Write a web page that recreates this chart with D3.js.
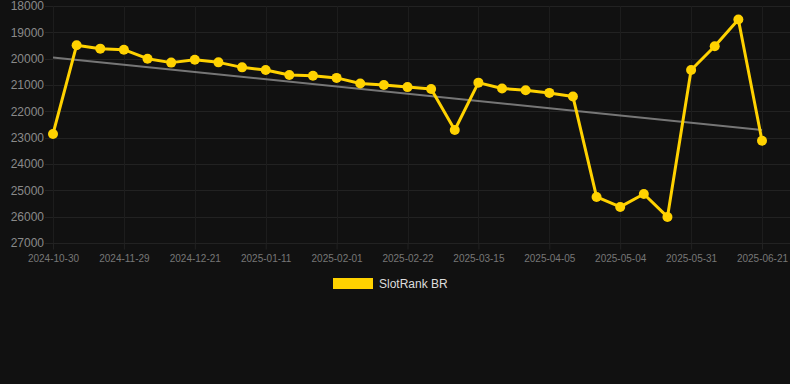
<!DOCTYPE html>
<html>
  <head>
    <meta charset="UTF-8" />
    <script src="https://cdn.jsdelivr.net/npm/d3@7"></script>
    <style>
      html, body { margin: 0; padding: 0; background: #111111; }
      svg { display: block; font-family: Arial, "Liberation Sans", sans-serif; }
    </style>
  </head>
  <body>
    <svg></svg>
    <script>
      // data
      const dates = [
        "2024-10-30", "2024-11-09", "2024-11-19", "2024-11-29", "2024-12-06",
        "2024-12-14", "2024-12-21", "2024-12-28", "2025-01-04", "2025-01-11",
        "2025-01-18", "2025-01-25", "2025-02-01", "2025-02-08", "2025-02-15",
        "2025-02-22", "2025-03-01", "2025-03-08", "2025-03-15", "2025-03-22",
        "2025-03-29", "2025-04-05", "2025-04-14", "2025-04-24", "2025-05-04",
        "2025-05-13", "2025-05-22", "2025-05-31", "2025-06-07", "2025-06-14",
        "2025-06-21"
      ]
      const ranks = [
        22860, 19490, 19620, 19660, 20000, 20150, 20040, 20140, 20330, 20430,
        20620, 20650, 20730, 20940, 21000, 21080, 21150, 22710, 20910, 21130,
        21200, 21300, 21440, 25250, 25630, 25140, 26010, 20430, 19530, 18510,
        23120
      ]
      const yTicks = [18000, 19000, 20000, 21000, 22000, 23000, 24000, 25000, 26000, 27000]
      const seriesName = "SlotRank BR"

      const width = 790
      const height = 384
      const gold = "#ffd200"

      const svg = d3.select("svg").attr("width", width).attr("height", height)

      const x = d3.scalePoint().domain(dates).range([53, 762])
      const y = d3.scaleLinear().domain([18000, 27000]).range([6, 243])

      const xTicks = dates.filter((d, i) => i % 3 === 0)

      // grid
      svg.append("g")
        .attr("stroke", "#222")
        .attr("stroke-width", 1)
        .selectAll("line")
        .data(yTicks)
        .join("line")
        .attr("x1", 45)
        .attr("x2", 790)
        .attr("y1", (d) => Math.round(y(d)) + 0.5)
        .attr("y2", (d) => Math.round(y(d)) + 0.5)

      svg.append("g")
        .attr("stroke", "#1d1d1d")
        .selectAll("line")
        .data(xTicks)
        .join("line")
        .attr("x1", (d) => Math.round(x(d)) + 0.5)
        .attr("x2", (d) => Math.round(x(d)) + 0.5)
        .attr("y1", y(18000))
        .attr("y2", y(27000))

      // x axis
      const xAxis = svg.append("g")
        .attr("transform", `translate(0,${Math.round(y(27000)) + 0.5})`)
        .call(d3.axisBottom(x).tickValues(xTicks).tickSize(6).tickPadding(5))
      xAxis.select(".domain").remove()
      xAxis.selectAll(".tick line").attr("stroke", "#222")
      xAxis.selectAll(".tick text")
        .attr("fill", "#777")
        .attr("font-size", 10)
        .attr("font-family", "Arial, 'Liberation Sans', sans-serif")

      // y axis
      const yAxis = svg.append("g")
        .attr("transform", "translate(44,0)")
        .call(d3.axisLeft(y).tickValues(yTicks).tickSize(0).tickPadding(0).tickFormat(d3.format("d")))
      yAxis.select(".domain").remove()
      yAxis.selectAll(".tick text")
        .attr("fill", "#8a8a8a")
        .attr("font-size", 12)
        .attr("font-family", "Arial, 'Liberation Sans', sans-serif")

      // trend line (least squares)
      const idx = ranks.map((d, i) => i)
      const mx = d3.mean(idx)
      const my = d3.mean(ranks)
      const slope = d3.sum(idx, (i) => (i - mx) * (ranks[i] - my)) / d3.sum(idx, (i) => (i - mx) ** 2)
      const trend = (i) => my + slope * (i - mx)
      svg.append("line")
        .attr("x1", x(dates[0]))
        .attr("x2", x(dates[dates.length - 1]))
        .attr("y1", y(trend(0)))
        .attr("y2", y(trend(dates.length - 1)))
        .attr("stroke", "#888")
        .attr("stroke-opacity", 0.85)
        .attr("stroke-width", 2)

      // series
      const line = d3.line()
        .x((d, i) => x(dates[i]))
        .y((d) => y(d))

      svg.append("path")
        .datum(ranks)
        .attr("fill", "none")
        .attr("stroke", gold)
        .attr("stroke-width", 3)
        .attr("stroke-linejoin", "round")
        .attr("d", line)

      svg.append("g")
        .attr("fill", gold)
        .selectAll("circle")
        .data(ranks)
        .join("circle")
        .attr("cx", (d, i) => x(dates[i]))
        .attr("cy", (d) => y(d))
        .attr("r", 5)

      // legend
      const legend = svg.append("g").attr("transform", "translate(333,278)")
      legend.append("rect")
        .attr("width", 40)
        .attr("height", 11)
        .attr("fill", gold)
      legend.append("text")
        .attr("x", 46)
        .attr("y", 6)
        .attr("dy", "0.35em")
        .attr("fill", "#ddd")
        .attr("font-size", 12)
        .text(seriesName)
    </script>
  </body>
</html>
